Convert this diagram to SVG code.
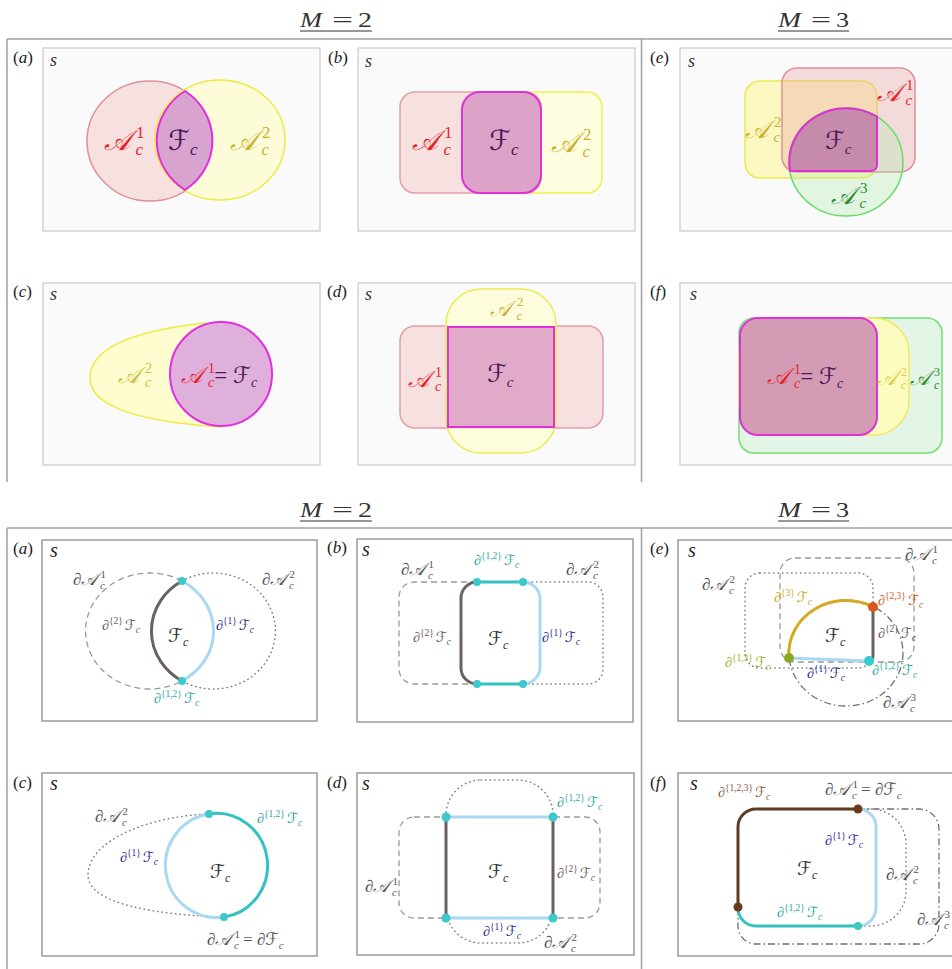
<svg xmlns="http://www.w3.org/2000/svg" width="952" height="969" viewBox="0 0 952 969">
<style>
.t{font-family:"Liberation Serif","DejaVu Serif","DejaVu Sans",serif;font-style:italic}
.up{font-style:normal}
.pb{fill:#fafafa;stroke:#d4d4d4;stroke-width:1.5}
.qb{fill:#fff;stroke:#9a9a9a;stroke-width:1.5}
.fr{stroke:#a0a0a0;stroke-width:1.5;fill:none}
.ul{stroke:#333;stroke-width:1.2}
.hd{font-size:21px;fill:#333}
.pl{font-size:17px;fill:#222}
.s1{font-size:18px;fill:#333}
.s2{font-size:20px;fill:#222}
.dash{fill:none;stroke:#999;stroke-width:1.3;stroke-dasharray:6 4}
.dot{fill:none;stroke:#808080;stroke-width:1.5;stroke-dasharray:0.5 4;stroke-linecap:round}
.dd{fill:none;stroke:#707070;stroke-width:1.3;stroke-dasharray:7 3 1.5 3}
.th{fill:none;stroke-width:3;stroke-linecap:round}
.dk{stroke:#6d6060}
.lb{stroke:#a8d8f2}
.tl{stroke:#33c2c0}
.gA{font-size:17px;fill:#555}
.bF{font-size:14px}
.cF{font-size:19px;fill:#333}
.red{fill:#e62228}.gold{fill:#c8b22a}.pur{fill:#4a1a5a}.grn{fill:#2a8a2a}
.c2{fill:#6a5656}.c1{fill:#2b2b8c}.c12{fill:#2aa5a5}.c3{fill:#d0a820}.c23{fill:#cc5a22}.c13{fill:#9ab020}.c123{fill:#8a5a3a}
</style>

<g id="frames">
<line class="fr" x1="7" y1="39" x2="952" y2="39"/>
<line class="fr" x1="7" y1="39" x2="7" y2="482"/>
<line class="fr" x1="641.5" y1="39" x2="641.5" y2="482"/>
<line class="fr" x1="7" y1="528" x2="952" y2="528"/>
<line class="fr" x1="7" y1="528" x2="7" y2="969"/>
<line class="fr" x1="641.5" y1="528" x2="641.5" y2="969"/>
</g>

<g id="headers">
<text class="t hd" x="300" y="27" textLength="22" lengthAdjust="spacingAndGlyphs">M</text>
<text class="t hd up" x="332" y="27" textLength="21" lengthAdjust="spacingAndGlyphs">=</text>
<text class="t hd up" x="358" y="27" textLength="14" lengthAdjust="spacingAndGlyphs">2</text>
<line class="ul" x1="300" y1="31" x2="372" y2="31"/>
<text class="t hd" x="778" y="27" textLength="23" lengthAdjust="spacingAndGlyphs">M</text>
<text class="t hd up" x="811" y="27" textLength="20" lengthAdjust="spacingAndGlyphs">=</text>
<text class="t hd up" x="836" y="27" textLength="13" lengthAdjust="spacingAndGlyphs">3</text>
<line class="ul" x1="778" y1="31" x2="849" y2="31"/>
<text class="t hd" x="300" y="517" textLength="22" lengthAdjust="spacingAndGlyphs">M</text>
<text class="t hd up" x="332" y="517" textLength="21" lengthAdjust="spacingAndGlyphs">=</text>
<text class="t hd up" x="358" y="517" textLength="14" lengthAdjust="spacingAndGlyphs">2</text>
<line class="ul" x1="300" y1="521" x2="372" y2="521"/>
<text class="t hd" x="778" y="517" textLength="23" lengthAdjust="spacingAndGlyphs">M</text>
<text class="t hd up" x="811" y="517" textLength="20" lengthAdjust="spacingAndGlyphs">=</text>
<text class="t hd up" x="836" y="517" textLength="13" lengthAdjust="spacingAndGlyphs">3</text>
<line class="ul" x1="778" y1="521" x2="849" y2="521"/>
</g>

<g id="top-a">
<rect class="pb" x="43" y="48" width="277" height="183"/>
<text class="t pl" x="13" y="63"><tspan class="up">(</tspan>a<tspan class="up">)</tspan></text>
<text class="t s1" x="50" y="66">s</text>
<ellipse cx="150" cy="141" rx="63" ry="60" fill="#f6e0e0" stroke="#e0909a" stroke-width="1.5"/>
<ellipse cx="220" cy="140" rx="65" ry="60" fill="#fdfcd2" fill-opacity="0.85" stroke="#eeea40" stroke-width="1.5"/>
<path d="M185,91 A65,60 0 0,0 185,190 A63,60 0 0,0 185,91 Z" fill="#d9a3cf" stroke="#e02ee0" stroke-width="2"/>
<text class="t red" x="104" y="150" font-size="28">𝒜<tspan class="up" font-size="17" dx="6" dy="-12">1</tspan><tspan font-size="17" dx="-9" dy="17">c</tspan></text>
<text class="t pur" x="168" y="150" font-size="28">ℱ<tspan font-size="17" dy="5">c</tspan></text>
<text class="t gold" x="230" y="150" font-size="28">𝒜<tspan class="up" font-size="17" dx="6" dy="-12">2</tspan><tspan font-size="17" dx="-9" dy="17">c</tspan></text>
</g>

<g id="top-b">
<rect class="pb" x="358" y="48" width="277" height="183"/>
<text class="t pl" x="328" y="63"><tspan class="up">(</tspan>b<tspan class="up">)</tspan></text>
<text class="t s1" x="365" y="67">s</text>
<rect x="462" y="92" width="140" height="101" rx="15" fill="#fdfde0" stroke="#f0ee50" stroke-width="1.5"/>
<rect x="400" y="92" width="141" height="101" rx="15" fill="#f6e0e0" stroke="#e2a0a8" stroke-width="1.5"/>
<rect x="462" y="92" width="79" height="101" rx="18" fill="#dca2c8" stroke="#e030d8" stroke-width="2"/>
<text class="t red" x="412" y="150" font-size="28">𝒜<tspan class="up" font-size="17" dx="6" dy="-12">1</tspan><tspan font-size="17" dx="-9" dy="17">c</tspan></text>
<text class="t pur" x="489" y="150" font-size="28">ℱ<tspan font-size="17" dy="5">c</tspan></text>
<text class="t gold" x="551" y="152" font-size="28">𝒜<tspan class="up" font-size="17" dx="6" dy="-12">2</tspan><tspan font-size="17" dx="-9" dy="17">c</tspan></text>
</g>

<g id="top-e">
<rect class="pb" x="680" y="48" width="290" height="183"/>
<text class="t pl" x="650" y="63"><tspan class="up">(</tspan>e<tspan class="up">)</tspan></text>
<text class="t s1" x="688" y="67">s</text>
<rect x="745" y="81" width="132" height="97" rx="15" fill="#fff48a" fill-opacity="0.5" stroke="#ecea50" stroke-width="1.5"/>
<rect x="782" y="68" width="133" height="104" rx="15" fill="#e8a0a0" fill-opacity="0.35" stroke="#e09098" stroke-width="1.5"/>
<ellipse cx="846" cy="162" rx="57" ry="54" fill="#a8eaa8" fill-opacity="0.3" stroke="#66dd66" stroke-width="1.5"/>
<path d="M790,171 A57,54 0 0,1 877,116.7 L877,164 Q877,171 870,171 Z" fill="#c68aaa" stroke="#e02ed8" stroke-width="2"/>
<text class="t red" x="877" y="101" font-size="25">𝒜<tspan class="up" font-size="15" dx="5" dy="-11">1</tspan><tspan font-size="15" dx="-8" dy="15">c</tspan></text>
<text class="t gold" x="745" y="138" font-size="25">𝒜<tspan class="up" font-size="15" dx="5" dy="-11">2</tspan><tspan font-size="15" dx="-8" dy="15">c</tspan></text>
<text class="t pur" x="825" y="149" font-size="25">ℱ<tspan font-size="15" dy="5">c</tspan></text>
<text class="t grn" x="831" y="204" font-size="25">𝒜<tspan class="up" font-size="15" dx="5" dy="-11">3</tspan><tspan font-size="15" dx="-8" dy="15">c</tspan></text>
</g>

<g id="top-c">
<rect class="pb" x="43" y="283" width="277" height="182"/>
<text class="t pl" x="13" y="297"><tspan class="up">(</tspan>c<tspan class="up">)</tspan></text>
<text class="t s1" x="50" y="300">s</text>
<path d="M205,323 C140,330 90,345 90,378 C90,410 150,422 220,427 L221,374 Z" fill="#fdfdd0" stroke="#eeea40" stroke-width="1.5"/>
<ellipse cx="221" cy="374" rx="51" ry="52" fill="#e0b0dc" stroke="#e02ee0" stroke-width="2"/>
<text class="t" x="118" y="383" font-size="23" fill="#c8c040">𝒜<tspan class="up" font-size="14" dx="5" dy="-10">2</tspan><tspan font-size="14" dx="-7" dy="14">c</tspan></text>
<text class="t red" x="181" y="383" font-size="23">𝒜<tspan class="up" font-size="14" dx="5" dy="-10">1</tspan><tspan font-size="14" dx="-7" dy="14">c</tspan><tspan class="up pur" font-size="23" dy="-4">= </tspan><tspan class="pur" font-size="23">ℱ</tspan><tspan class="pur" font-size="14" dy="4">c</tspan></text>
</g>

<g id="top-d">
<rect class="pb" x="358" y="283" width="277" height="182"/>
<text class="t pl" x="327" y="297"><tspan class="up">(</tspan>d<tspan class="up">)</tspan></text>
<text class="t s1" x="365" y="300">s</text>
<rect x="400" y="326" width="203" height="102" rx="15" fill="#f6e0e0" stroke="#e0a0a8" stroke-width="1.5"/>
<rect x="446" y="289" width="110" height="164" rx="35" fill="#fdfdd8" fill-opacity="0.85" stroke="#eeea50" stroke-width="1.5"/>
<rect x="448" y="327" width="106" height="100" fill="#e0aac8" stroke="#e030d8" stroke-width="2"/>
<text class="t gold" x="490" y="316" font-size="22">𝒜<tspan class="up" font-size="13" dx="6" dy="-10">2</tspan><tspan font-size="13" dx="-7" dy="14">c</tspan></text>
<text class="t red" x="408" y="387" font-size="23">𝒜<tspan class="up" font-size="14" dx="5" dy="-10">1</tspan><tspan font-size="14" dx="-7" dy="14">c</tspan></text>
<text class="t pur" x="487" y="382" font-size="25">ℱ<tspan font-size="15" dy="5">c</tspan></text>
</g>

<g id="top-f">
<rect class="pb" x="680" y="283" width="290" height="182"/>
<text class="t pl" x="650" y="297"><tspan class="up">(</tspan>f<tspan class="up">)</tspan></text>
<text class="t s1" x="690" y="300">s</text>
<rect x="739" y="318" width="203" height="135" rx="15" fill="#e2f5e6" stroke="#70e070" stroke-width="1.5"/>
<rect x="739" y="318" width="170" height="117" rx="35" fill="#fcfcc0" stroke="#eeea60" stroke-width="1.5"/>
<rect x="740" y="318" width="137" height="117" rx="18" fill="#d49cb4" stroke="#e030d8" stroke-width="2"/>
<text class="t red" x="767" y="384" font-size="23">𝒜<tspan class="up" font-size="14" dx="5" dy="-10">1</tspan><tspan font-size="14" dx="-7" dy="14">c</tspan><tspan class="up pur" font-size="23" dy="-4">= </tspan><tspan class="pur" font-size="23">ℱ</tspan><tspan class="pur" font-size="14" dy="4">c</tspan></text>
<text class="t" x="877" y="385" font-size="21" fill="#d8cc40">𝒜<tspan class="up" font-size="12" dx="4" dy="-9">2</tspan><tspan font-size="12" dx="-6" dy="13">c</tspan></text>
<text class="t grn" x="910" y="385" font-size="21">𝒜<tspan class="up" font-size="12" dx="4" dy="-9">3</tspan><tspan font-size="12" dx="-6" dy="13">c</tspan></text>
</g>

<g id="bot-a">
<rect class="qb" x="42" y="540" width="275" height="181"/>
<text class="t pl" x="13" y="554"><tspan class="up">(</tspan>a<tspan class="up">)</tspan></text>
<text class="t s2" x="50" y="557">s</text>
<path class="dash" d="M182,581 A64,58 0 1,0 182,681"/>
<path class="dot" d="M182,581 A62,58 0 1,1 182,681"/>
<path class="th dk" d="M182,581 A62,58 0 0,0 182,681"/>
<path class="th lb" d="M182,581 A64,58 0 0,1 182,681"/>
<circle cx="182" cy="581" r="4" fill="#3cc8cc"/>
<circle cx="182" cy="681" r="4" fill="#3cc8cc"/>
<text class="t gA" x="73" y="585">∂𝒜<tspan class="up" font-size="11" dx="3" dy="-7">1</tspan><tspan font-size="11" dx="-6" dy="11">c</tspan></text>
<text class="t gA" x="262" y="585">∂𝒜<tspan class="up" font-size="11" dx="3" dy="-7">2</tspan><tspan font-size="11" dx="-6" dy="11">c</tspan></text>
<text class="t bF c2" x="102" y="630">∂<tspan class="up" font-size="9.5" dy="-6">{2}</tspan><tspan dx="2" dy="6">ℱ</tspan><tspan font-size="9.5" dy="3">c</tspan></text>
<text class="t cF" x="168" y="642">ℱ<tspan font-size="12" dy="4">c</tspan></text>
<text class="t bF c1" x="216" y="630">∂<tspan class="up" font-size="9.5" dy="-6">{1}</tspan><tspan dx="2" dy="6">ℱ</tspan><tspan font-size="9.5" dy="3">c</tspan></text>
<text class="t bF c12" x="154" y="703">∂<tspan class="up" font-size="9.5" dy="-6">{1,2}</tspan><tspan dx="2" dy="6">ℱ</tspan><tspan font-size="9.5" dy="3">c</tspan></text>
</g>

<g id="bot-b">
<rect class="qb" x="357" y="539" width="276" height="183"/>
<text class="t pl" x="327" y="553"><tspan class="up">(</tspan>b<tspan class="up">)</tspan></text>
<text class="t s2" x="362" y="556">s</text>
<path class="dash" d="M477,582 H414 A15,15 0 0,0 399,597 V669 A15,15 0 0,0 414,684 H477"/>
<path class="dot" d="M523,582 H588 A15,15 0 0,1 603,597 V669 A15,15 0 0,1 588,684 H523"/>
<path class="th dk" d="M477,582 A16,16 0 0,0 461,598 V668 A16,16 0 0,0 477,684"/>
<path class="th lb" d="M523,582 A17,17 0 0,1 540,599 V667 A17,17 0 0,1 523,684"/>
<path class="th tl" d="M477,582 H523 M477,684 H523"/>
<circle cx="477" cy="582" r="4" fill="#3cc8cc"/>
<circle cx="523" cy="582" r="4" fill="#3cc8cc"/>
<circle cx="477" cy="684" r="4" fill="#3cc8cc"/>
<circle cx="523" cy="684" r="4" fill="#3cc8cc"/>
<text class="t gA" x="401" y="575">∂𝒜<tspan class="up" font-size="11" dx="3" dy="-7">1</tspan><tspan font-size="11" dx="-6" dy="11">c</tspan></text>
<text class="t bF c12" x="474" y="565">∂<tspan class="up" font-size="9.5" dy="-6">{1,2}</tspan><tspan dx="2" dy="6">ℱ</tspan><tspan font-size="9.5" dy="3">c</tspan></text>
<text class="t gA" x="566" y="575">∂𝒜<tspan class="up" font-size="11" dx="3" dy="-7">2</tspan><tspan font-size="11" dx="-6" dy="11">c</tspan></text>
<text class="t bF c2" x="413" y="642">∂<tspan class="up" font-size="9.5" dy="-6">{2}</tspan><tspan dx="2" dy="6">ℱ</tspan><tspan font-size="9.5" dy="3">c</tspan></text>
<text class="t cF" x="488" y="645">ℱ<tspan font-size="12" dy="4">c</tspan></text>
<text class="t bF c1" x="542" y="642">∂<tspan class="up" font-size="9.5" dy="-6">{1}</tspan><tspan dx="2" dy="6">ℱ</tspan><tspan font-size="9.5" dy="3">c</tspan></text>
</g>

<g id="bot-e">
<rect class="qb" x="678" y="540" width="290" height="181"/>
<text class="t pl" x="650" y="554"><tspan class="up">(</tspan>e<tspan class="up">)</tspan></text>
<text class="t s2" x="688" y="557">s</text>
<rect class="dash" x="780" y="558" width="134" height="104" rx="15"/>
<rect class="dot" x="745" y="573" width="128" height="95" rx="15"/>
<ellipse class="dd" cx="846" cy="653" rx="57" ry="53"/>
<path class="th" stroke="#d4aa20" d="M789,658 A57,53 0 0,1 873,607"/>
<path class="th dk" d="M873,607 V655 Q873,661 869,661"/>
<path class="th lb" d="M869,661 L789,658"/>
<circle cx="789" cy="658" r="5" fill="#88aa22"/>
<circle cx="873" cy="607" r="5" fill="#d85a1a"/>
<circle cx="869" cy="661" r="5" fill="#33cccc"/>
<text class="t gA" x="905" y="560">∂𝒜<tspan class="up" font-size="11" dx="3" dy="-7">1</tspan><tspan font-size="11" dx="-6" dy="11">c</tspan></text>
<text class="t gA" x="702" y="590">∂𝒜<tspan class="up" font-size="11" dx="3" dy="-7">2</tspan><tspan font-size="11" dx="-6" dy="11">c</tspan></text>
<text class="t bF c3" x="774" y="602">∂<tspan class="up" font-size="9.5" dy="-6">{3}</tspan><tspan dx="2" dy="6">ℱ</tspan><tspan font-size="9.5" dy="3">c</tspan></text>
<text class="t bF c23" x="878" y="605">∂<tspan class="up" font-size="9.5" dy="-6">{2,3}</tspan><tspan dx="2" dy="6">ℱ</tspan><tspan font-size="9.5" dy="3">c</tspan></text>
<text class="t cF" x="825" y="642">ℱ<tspan font-size="12" dy="4">c</tspan></text>
<text class="t bF c2" x="878" y="638">∂<tspan class="up" font-size="9.5" dy="-6">{2}</tspan><tspan dx="2" dy="6">ℱ</tspan><tspan font-size="9.5" dy="3">c</tspan></text>
<text class="t bF c13" x="725" y="667">∂<tspan class="up" font-size="9.5" dy="-6">{1,3}</tspan><tspan dx="2" dy="6">ℱ</tspan><tspan font-size="9.5" dy="3">c</tspan></text>
<text class="t bF c1" x="807" y="678">∂<tspan class="up" font-size="9.5" dy="-6">{1}</tspan><tspan dx="2" dy="6">ℱ</tspan><tspan font-size="9.5" dy="3">c</tspan></text>
<text class="t bF c12" x="872" y="675">∂<tspan class="up" font-size="9.5" dy="-6">{1,2}</tspan><tspan dx="2" dy="6">ℱ</tspan><tspan font-size="9.5" dy="3">c</tspan></text>
<text class="t gA" x="883" y="708">∂𝒜<tspan class="up" font-size="11" dx="3" dy="-7">3</tspan><tspan font-size="11" dx="-6" dy="11">c</tspan></text>
</g>

<g id="bot-c">
<rect class="qb" x="42" y="773" width="275" height="183"/>
<text class="t pl" x="13" y="788"><tspan class="up">(</tspan>c<tspan class="up">)</tspan></text>
<text class="t s2" x="50" y="790">s</text>
<path class="dot" d="M209,814 C150,816 88,840 88,875 C88,905 160,915 224,917"/>
<path class="th lb" d="M209,814 A51,52 0 0,0 224,917"/>
<path class="th tl" d="M209,814 A51,52 0 1,1 224,917"/>
<circle cx="209" cy="814" r="4" fill="#3cc8cc"/>
<circle cx="224" cy="917" r="4" fill="#3cc8cc"/>
<text class="t gA" x="95" y="822">∂𝒜<tspan class="up" font-size="11" dx="3" dy="-7">2</tspan><tspan font-size="11" dx="-6" dy="11">c</tspan></text>
<text class="t bF c12" x="257" y="823">∂<tspan class="up" font-size="9.5" dy="-6">{1,2}</tspan><tspan dx="2" dy="6">ℱ</tspan><tspan font-size="9.5" dy="3">c</tspan></text>
<text class="t bF c1" x="120" y="862">∂<tspan class="up" font-size="9.5" dy="-6">{1}</tspan><tspan dx="2" dy="6">ℱ</tspan><tspan font-size="9.5" dy="3">c</tspan></text>
<text class="t cF" x="210" y="878">ℱ<tspan font-size="12" dy="4">c</tspan></text>
<text class="t gA" x="207" y="945">∂𝒜<tspan class="up" font-size="11" dx="3" dy="-7">1</tspan><tspan font-size="11" dx="-6" dy="11">c</tspan><tspan class="up" dy="-4"> = </tspan>∂ℱ<tspan font-size="11" dy="4">c</tspan></text>
</g>

<g id="bot-d">
<rect class="qb" x="357" y="773" width="277" height="182"/>
<text class="t pl" x="327" y="788"><tspan class="up">(</tspan>d<tspan class="up">)</tspan></text>
<text class="t s2" x="362" y="790">s</text>
<rect class="dash" x="399" y="817" width="201" height="101" rx="15"/>
<rect class="dot" x="446" y="780" width="107" height="163" rx="35"/>
<path class="th lb" d="M446,817 H553 M446,918 H553"/>
<path class="th dk" d="M446,817 V918 M553,817 V918"/>
<circle cx="446" cy="817" r="4.5" fill="#3cc8cc"/>
<circle cx="553" cy="817" r="4.5" fill="#3cc8cc"/>
<circle cx="446" cy="918" r="4.5" fill="#3cc8cc"/>
<circle cx="553" cy="918" r="4.5" fill="#3cc8cc"/>
<text class="t bF c12" x="557" y="807">∂<tspan class="up" font-size="9.5" dy="-6">{1,2}</tspan><tspan dx="2" dy="6">ℱ</tspan><tspan font-size="9.5" dy="3">c</tspan></text>
<text class="t cF" x="488" y="878">ℱ<tspan font-size="12" dy="4">c</tspan></text>
<text class="t bF c2" x="557" y="878">∂<tspan class="up" font-size="9.5" dy="-6">{2}</tspan><tspan dx="2" dy="6">ℱ</tspan><tspan font-size="9.5" dy="3">c</tspan></text>
<text class="t gA" x="365" y="892">∂𝒜<tspan class="up" font-size="11" dx="3" dy="-7">1</tspan><tspan font-size="11" dx="-6" dy="11">c</tspan></text>
<text class="t bF c1" x="483" y="936">∂<tspan class="up" font-size="9.5" dy="-6">{1}</tspan><tspan dx="2" dy="6">ℱ</tspan><tspan font-size="9.5" dy="3">c</tspan></text>
<text class="t gA" x="544" y="948">∂𝒜<tspan class="up" font-size="11" dx="3" dy="-7">2</tspan><tspan font-size="11" dx="-6" dy="11">c</tspan></text>
</g>

<g id="bot-f">
<rect class="qb" x="678" y="773" width="290" height="183"/>
<text class="t pl" x="650" y="788"><tspan class="up">(</tspan>f<tspan class="up">)</tspan></text>
<text class="t s2" x="690" y="790">s</text>
<path class="dd" d="M858,809 H919 A20,20 0 0,1 939,829 V924 A20,20 0 0,1 919,944 H756 A18,18 0 0,1 738,926 V907"/>
<path class="dot" d="M858,809 H871 A35,35 0 0,1 906,844 V891 A35,35 0 0,1 871,926 H858"/>
<path class="th" stroke="#5b3b22" d="M738,907 V827 A18,18 0 0,1 756,809 H858"/>
<path class="th lb" d="M858,809 A18,18 0 0,1 876,827 V908 A18,18 0 0,1 858,926"/>
<path class="th tl" d="M858,926 H756 A18,18 0 0,1 738,908"/>
<circle cx="738" cy="907" r="4.5" fill="#6b3a1a"/>
<circle cx="858" cy="809" r="4.5" fill="#6b3a1a"/>
<circle cx="858" cy="926" r="4" fill="#3cc8c0"/>
<text class="t bF c123" x="718" y="797">∂<tspan class="up" font-size="9.5" dy="-6">{1,2,3}</tspan><tspan dx="2" dy="6">ℱ</tspan><tspan font-size="9.5" dy="3">c</tspan></text>
<text class="t gA" x="825" y="795">∂𝒜<tspan class="up" font-size="11" dx="3" dy="-7">1</tspan><tspan font-size="11" dx="-6" dy="11">c</tspan><tspan class="up" dy="-4"> = </tspan>∂ℱ<tspan font-size="11" dy="4">c</tspan></text>
<text class="t bF c1" x="825" y="845">∂<tspan class="up" font-size="9.5" dy="-6">{1}</tspan><tspan dx="2" dy="6">ℱ</tspan><tspan font-size="9.5" dy="3">c</tspan></text>
<text class="t cF" x="797" y="875">ℱ<tspan font-size="12" dy="4">c</tspan></text>
<text class="t gA" x="886" y="880">∂𝒜<tspan class="up" font-size="11" dx="3" dy="-7">2</tspan><tspan font-size="11" dx="-6" dy="11">c</tspan></text>
<text class="t bF c12" x="777" y="917">∂<tspan class="up" font-size="9.5" dy="-6">{1,2}</tspan><tspan dx="2" dy="6">ℱ</tspan><tspan font-size="9.5" dy="3">c</tspan></text>
<text class="t gA" x="917" y="925">∂𝒜<tspan class="up" font-size="11" dx="3" dy="-7">3</tspan><tspan font-size="11" dx="-6" dy="11">c</tspan></text>
</g>
</svg>
